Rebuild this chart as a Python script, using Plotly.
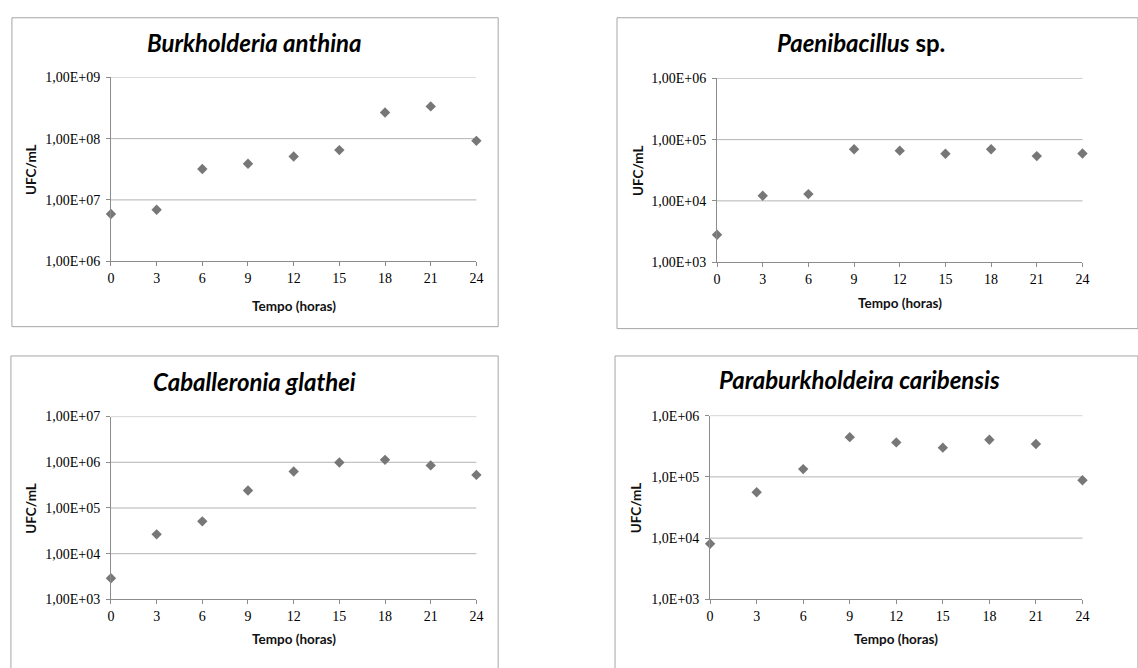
import plotly.graph_objects as go

# Sampling times (hours)
hours = [0, 3, 6, 9, 12, 15, 18, 21, 24]

# Viable counts (UFC/mL) per isolate
burkholderia_anthina = [5.9e6, 6.9e6, 3.2e7, 3.9e7, 5.1e7, 6.5e7, 2.67e8, 3.36e8, 9.2e7]
paenibacillus_sp = [2.8e3, 1.21e4, 1.29e4, 6.95e4, 6.6e4, 5.87e4, 6.95e4, 5.38e4, 5.94e4]
caballeronia_glathei = [2.9e3, 2.65e4, 5.1e4, 2.42e5, 6.27e5, 9.9e5, 1.13e6, 8.55e5, 5.3e5]
paraburkholdeira_caribensis = [8.1e3, 5.6e4, 1.34e5, 4.45e5, 3.65e5, 3.0e5, 4.03e5, 3.44e5, 8.8e4]

titles = [
    "<b><i>Burkholderia anthina</i></b>",
    "<b><i>Paenibacillus</i> sp.</b>",
    "<b><i>Caballeronia glathei</i></b>",
    "<b><i>Paraburkholdeira caribensis</i></b>",
]

# Decade tick labels for each panel
ticks_1 = ["1,00E+06", "1,00E+07", "1,00E+08", "1,00E+09"]
ticks_2 = ["1,00E+03", "1,00E+04", "1,00E+05", "1,00E+06"]
ticks_3 = ["1,00E+03", "1,00E+04", "1,00E+05", "1,00E+06", "1,00E+07"]
ticks_4 = ["1,0E+03", "1,0E+04", "1,0E+05", "1,0E+06"]

W, H = 1138, 668

panels = [
    # series, tick labels, first decade, plot box (px), frame (px), title pos, ylabel x, xlabel y
    dict(y=burkholderia_anthina, ticks=ticks_1, e0=6, box=(108, 477, 72, 260),
         frame=(8, 499, 11, 327), title=(253, 36), ylab=28, xlab=306),
    dict(y=paenibacillus_sp, ticks=ticks_2, e0=3, box=(720, 1089, 73, 261),
         frame=(619, 1145, 11, 329), title=(865, 36), ylab=640, xlab=303),
    dict(y=caballeronia_glathei, ticks=ticks_3, e0=3, box=(108, 477, 419, 606),
         frame=(7, 499, 357, 680), title=(253, 383), ylab=27, xlab=647),
    dict(y=paraburkholdeira_caribensis, ticks=ticks_4, e0=3, box=(713, 1089, 418, 606),
         frame=(617, 1145, 357, 680), title=(864, 381), ylab=638, xlab=647),
]

fig = go.Figure()
shapes, annotations = [], []
label_font = dict(family="Lato", size=13.5, color="#111111")
tick_font = dict(family="Liberation Serif", size=14, color="#000000")

for i, p in enumerate(panels, start=1):
    xa = "x" if i == 1 else f"x{i}"
    ya = "y" if i == 1 else f"y{i}"
    x0, x1, y0, y1 = p["box"]
    n = len(p["ticks"])
    tickvals = [10 ** (p["e0"] + k) for k in range(n)]

    fig.add_trace(go.Scatter(
        x=hours, y=p["y"], mode="markers", xaxis=xa, yaxis=ya,
        marker=dict(symbol="diamond", size=8, color="#777777"),
        cliponaxis=False, showlegend=False,
    ))

    fig.update_layout({
        f"xaxis{'' if i == 1 else i}": dict(
            domain=[x0 / W, x1 / W], anchor=ya, range=[0, 24],
            tickmode="array", tickvals=hours, ticktext=[str(h) for h in hours],
            showgrid=False, zeroline=False, showline=True, linecolor="#8c8c8c", linewidth=1,
            ticks="outside", ticklen=4, tickcolor="#8c8c8c",
            tickfont=tick_font,
        ),
        f"yaxis{'' if i == 1 else i}": dict(
            domain=[1 - y1 / H, 1 - y0 / H], anchor=xa, type="log",
            range=[p["e0"], p["e0"] + n - 1],
            tickmode="array", tickvals=tickvals, ticktext=p["ticks"],
            showgrid=False, zeroline=False,
            showline=True, linecolor="#8c8c8c", linewidth=1,
            ticks="outside", ticklen=4, tickcolor="#8c8c8c", ticklabelstandoff=3,
            tickfont=tick_font,
        ),
    })

    # decade gridlines, including the one on the top edge
    for v in tickvals[1:]:
        shapes.append(dict(type="line", xref=f"{xa} domain", yref=ya,
                           x0=0, x1=1, y0=v, y1=v,
                           line=dict(color="#b4b4b4", width=1), layer="below"))

    fx0, fx1, fy0, fy1 = p["frame"]
    shapes.append(dict(type="rect", xref="paper", yref="paper",
                       x0=fx0 / W, x1=fx1 / W, y0=1 - fy1 / H, y1=1 - fy0 / H,
                       line=dict(color="#a6a6a6", width=1), fillcolor="rgba(0,0,0,0)",
                       layer="below"))

    tx, ty = p["title"]
    annotations.append(dict(text=titles[i - 1], x=tx / W, y=1 - ty / H, xref="paper", yref="paper",
                            showarrow=False, xanchor="center", yanchor="middle",
                            font=dict(family="Lato", size=24, color="#000000")))
    annotations.append(dict(text="<b>UFC/mL</b>", x=p["ylab"] / W, y=1 - (y0 + y1) / 2 / H,
                            xref="paper", yref="paper", showarrow=False, textangle=-90,
                            xanchor="center", yanchor="middle", font=label_font))
    annotations.append(dict(text="<b>Tempo (horas)</b>", x=(x0 + x1) / 2 / W, y=1 - p["xlab"] / H,
                            xref="paper", yref="paper", showarrow=False,
                            xanchor="center", yanchor="middle", font=label_font))

fig.update_layout(
    width=W, height=H, margin=dict(l=0, r=0, t=0, b=0),
    paper_bgcolor="white", plot_bgcolor="white",
    shapes=shapes, annotations=annotations,
)

fig.write_html("out.html")
